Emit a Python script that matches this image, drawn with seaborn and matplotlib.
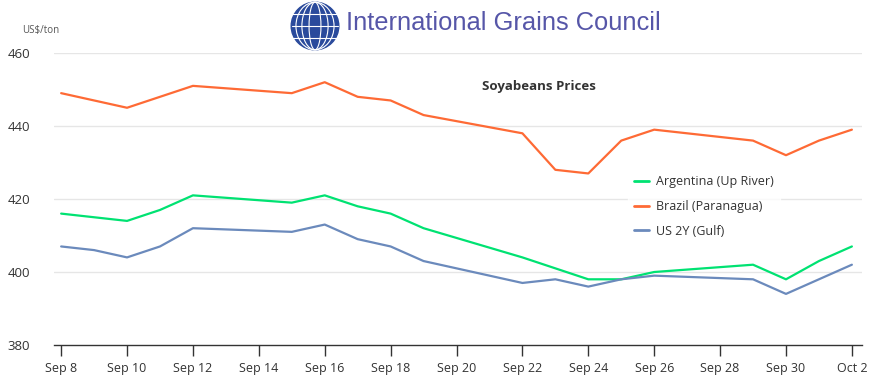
import pandas as pd
import matplotlib
matplotlib.use("Agg")
import matplotlib.pyplot as plt
import matplotlib.dates as mdates
from matplotlib.patches import Circle, Ellipse
import seaborn as sns

dates = ["2025-09-08", "2025-09-09", "2025-09-10", "2025-09-11", "2025-09-12",
         "2025-09-15", "2025-09-16", "2025-09-17", "2025-09-18", "2025-09-19",
         "2025-09-22", "2025-09-23", "2025-09-24", "2025-09-25", "2025-09-26",
         "2025-09-29", "2025-09-30", "2025-10-01", "2025-10-02"]
argentina = [416, 415, 414, 417, 421, 419, 421, 418, 416, 412,
             404, 401, 398, 398, 400, 402, 398, 403, 407]
brazil = [449, 447, 445, 448, 451, 449, 452, 448, 447, 443,
          438, 428, 427, 436, 439, 436, 432, 436, 439]
us_gulf = [407, 406, 404, 407, 412, 411, 413, 409, 407, 403,
           397, 398, 396, 398, 399, 398, 394, 398, 402]
series_names = ["Argentina (Up River)", "Brazil (Paranagua)", "US 2Y (Gulf)"]
colors = ["#00e272", "#fe6a35", "#6b8abc"]

df = pd.DataFrame({
    "Date": pd.to_datetime(dates * 3),
    "Price": argentina + brazil + us_gulf,
    "Series": [series_names[0]] * len(dates) + [series_names[1]] * len(dates)
              + [series_names[2]] * len(dates),
})

sns.set_style("white")
plt.rcParams["font.family"] = ["Open Sans", "DejaVu Sans"]

fig = plt.figure(figsize=(8.84, 3.85), dpi=100)
ax = fig.add_axes([0.0611, 0.1039, 0.9139, 0.7584])

sns.lineplot(data=df, x="Date", y="Price", hue="Series", palette=colors,
             linewidth=1.6, ax=ax)

# axes styling
ax.set_ylim(380, 460)
ax.set_yticks([380, 400, 420, 440, 460])
ax.set_xlim(pd.Timestamp("2025-09-08") - pd.Timedelta(hours=5.2),
            pd.Timestamp("2025-10-02") + pd.Timedelta(hours=7.3))
ax.xaxis.set_major_locator(mdates.DayLocator(bymonthday=[8, 10, 12, 14, 16, 18, 20, 22, 24, 26, 28, 30, 2]))
ax.xaxis.set_major_formatter(mdates.DateFormatter("%b %-d"))
ax.grid(axis="y", color="#e6e6e6", linewidth=1)
ax.set_axisbelow(True)
for s in ["top", "right", "left"]:
    ax.spines[s].set_visible(False)
ax.spines["bottom"].set_color("#333333")
ax.spines["bottom"].set_linewidth(1)
ax.tick_params(axis="x", length=8, width=1, color="#333333", labelsize=9,
               labelcolor="#333333", pad=4, bottom=True)
ax.tick_params(axis="y", length=0, labelsize=9.5, labelcolor="#333333", pad=17)
ax.set_xlabel("")
ax.set_ylabel("")
ax.yaxis.get_gridlines()[0].set_visible(False)

ax.text(0.60, 0.884, "Soyabeans Prices", transform=ax.transAxes, ha="center",
        va="center", fontsize=9.5, fontweight="bold", color="#333333")

leg = ax.legend(loc="upper left", bbox_to_anchor=(0.703, 0.625), frameon=True,
                fontsize=9, handlelength=1.2, handletextpad=0.5,
                labelspacing=0.95, borderpad=0.5)
leg.get_frame().set_facecolor("white")
leg.get_frame().set_edgecolor("white")
for t in leg.get_texts():
    t.set_color("#333333")
for line in leg.get_lines():
    line.set_linewidth(2)

# header
fig.text(22 / 884, 1 - 30 / 385, "US$/ton", fontsize=7, color="#555555",
         va="center", ha="left")
fig.text(346 / 884, 1 - 23 / 385, "International Grains Council",
         fontsize=18.4, color="#5656a8", va="center", ha="left",
         family=["Liberation Sans", "DejaVu Sans"])

# simple globe logo
logo = fig.add_axes([290 / 884, 1 - 51 / 385, 50 / 884, 50 / 385])
logo.set_xlim(-1.05, 1.05)
logo.set_ylim(-1.05, 1.05)
logo.set_aspect("equal")
logo.axis("off")
logo.add_patch(Circle((0, 0), 1, color="#2a4a9c"))
for w in [0.5, 1.1, 1.6]:
    logo.add_patch(Ellipse((0, 0), w, 2, fill=False, edgecolor="white", linewidth=0.8))
for yy in [-0.5, 0, 0.5]:
    logo.plot([-0.95, 0.95], [yy, yy], color="white", linewidth=0.8)

fig.savefig("out.png", dpi=100)
